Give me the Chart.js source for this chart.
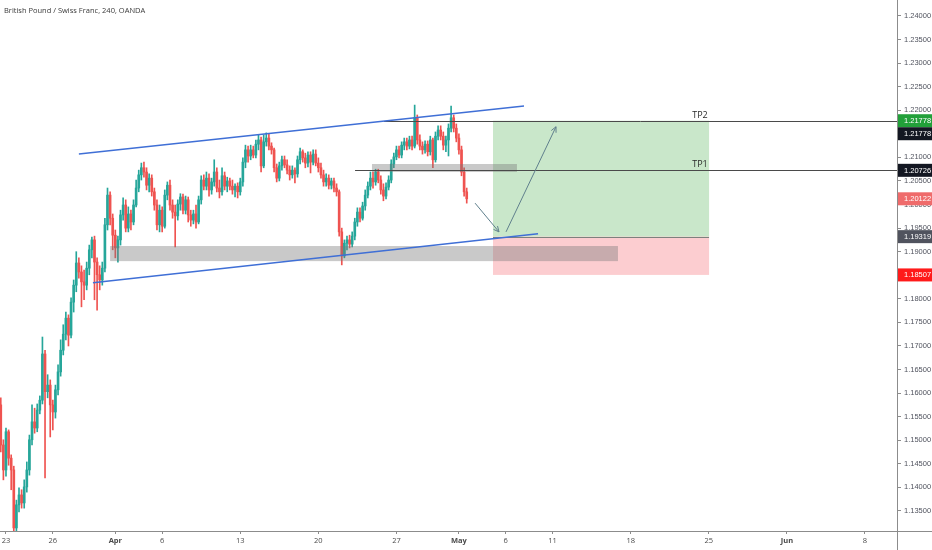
<!DOCTYPE html>
<html><head><meta charset="utf-8">
<script src="https://cdn.jsdelivr.net/npm/chart.js@4.4.1/dist/chart.umd.min.js"></script>
<style>html,body{margin:0;padding:0;background:#fff;}#wrap{width:932px;height:550px;}</style>
</head><body><div id="wrap"><canvas id="c" width="932" height="550"></canvas></div>
<script>
const chartTitle = 'British Pound / Swiss Franc, 240, OANDA';
const firstBar = -2; // bar index of the first candle (0 = first 4h bar of 23 Mar)

const opens = [
1.1575,1.1490,1.1437,1.1518,1.1462,1.1437,1.1314,1.1363,1.1384,1.1367,
1.1401,1.1437,1.1501,1.1539,1.1526,1.1564,1.1585,1.1683,1.1603,1.1617,
1.1575,1.1560,1.1607,1.1645,1.1691,1.1725,1.1759,1.1723,1.1793,1.1829,
1.1876,1.1857,1.1836,1.1829,1.1865,1.1904,1.1925,1.1878,1.1851,1.1840,
1.1865,1.1957,1.2020,1.1971,1.1935,1.1908,1.1925,1.1978,1.1999,1.1950,
1.1980,1.1963,1.1999,1.2035,1.2063,1.2078,1.2069,1.2041,1.2056,1.2027,
1.1999,1.1957,1.1988,1.1954,1.2020,1.2041,1.1999,1.1984,1.1976,1.2001,
1.2016,1.1988,1.2010,1.1978,1.1967,1.1980,1.1963,1.2010,1.2052,1.2039,
1.2056,1.2031,1.2048,1.2069,1.2035,1.2027,1.2061,1.2039,1.2050,1.2039,
1.2031,1.2039,1.2027,1.2048,1.2090,1.2116,1.2103,1.2116,1.2105,1.2128,
1.2137,1.2082,1.2133,1.2141,1.2124,1.2116,1.2078,1.2056,1.2082,1.2095,
1.2084,1.2073,1.2063,1.2073,1.2065,1.2095,1.2112,1.2099,1.2088,1.2105,
1.2090,1.2107,1.2088,1.2078,1.2063,1.2048,1.2056,1.2041,1.2050,1.2035,
1.2027,1.1942,1.1891,1.1918,1.1925,1.1916,1.1933,1.1963,1.1984,1.1971,
1.1997,1.2020,1.2039,1.2056,1.2048,1.2069,1.2052,1.2031,1.2018,1.2037,
1.2052,1.2086,1.2101,1.2116,1.2105,1.2126,1.2133,1.2124,1.2137,1.2124,
1.2184,1.2137,1.2124,1.2116,1.2128,1.2112,1.2137,1.2095,1.2145,1.2158,
1.2145,1.2126,1.2137,1.2162,1.2184,1.2162,1.2141,1.2116,1.2069,1.2027];

const highs = [
1.1590,1.1501,1.1526,1.1522,1.1469,1.1445,1.1373,1.1399,1.1395,1.1416,
1.1454,1.1511,1.1575,1.1568,1.1577,1.1594,1.1719,1.1691,1.1639,1.1628,
1.1585,1.1617,1.1660,1.1713,1.1745,1.1772,1.1766,1.1802,1.1840,1.1900,
1.1887,1.1870,1.1861,1.1878,1.1914,1.1931,1.1933,1.1887,1.1870,1.1878,
1.1971,1.2035,1.2027,1.1980,1.1946,1.1933,1.1988,1.2014,1.2010,1.1995,
1.1988,1.2010,1.2052,1.2073,1.2088,1.2090,1.2078,1.2065,1.2063,1.2035,
1.2010,1.1999,1.1995,1.2031,1.2048,1.2052,1.2010,1.1999,1.2010,1.2023,
1.2022,1.2018,1.2016,1.1988,1.1988,1.1999,1.2018,1.2061,1.2063,1.2069,
1.2065,1.2056,1.2095,1.2078,1.2052,1.2078,1.2069,1.2058,1.2056,1.2052,
1.2044,1.2046,1.2056,1.2099,1.2126,1.2124,1.2126,1.2124,1.2137,1.2148,
1.2143,1.2148,1.2152,1.2150,1.2131,1.2120,1.2086,1.2090,1.2103,1.2103,
1.2095,1.2082,1.2082,1.2078,1.2103,1.2120,1.2116,1.2109,1.2112,1.2112,
1.2116,1.2116,1.2099,1.2088,1.2073,1.2065,1.2063,1.2056,1.2056,1.2044,
1.2031,1.1950,1.1925,1.1933,1.1935,1.1942,1.1971,1.1993,1.1993,1.2005,
1.2031,1.2048,1.2069,1.2069,1.2075,1.2075,1.2061,1.2044,1.2046,1.2061,
1.2095,1.2109,1.2124,1.2124,1.2133,1.2141,1.2141,1.2145,1.2145,1.2211,
1.2190,1.2148,1.2133,1.2135,1.2135,1.2145,1.2141,1.2154,1.2167,1.2167,
1.2154,1.2145,1.2171,1.2209,1.2190,1.2171,1.2150,1.2124,1.2078,1.2035];

const lows = [
1.1475,1.1416,1.1424,1.1447,1.1395,1.1278,1.1300,1.1348,1.1356,1.1356,
1.1390,1.1426,1.1490,1.1515,1.1518,1.1556,1.1577,1.1420,1.1590,1.1507,
1.1522,1.1547,1.1596,1.1636,1.1681,1.1713,1.1700,1.1717,1.1772,1.1815,
1.1844,1.1783,1.1798,1.1819,1.1851,1.1887,1.1798,1.1776,1.1819,1.1829,
1.1857,1.1946,1.1957,1.1904,1.1887,1.1878,1.1914,1.1967,1.1942,1.1942,
1.1946,1.1957,1.1995,1.2027,1.2052,1.2058,1.2031,1.2027,1.2018,1.1988,
1.1946,1.1942,1.1942,1.1950,1.2010,1.1988,1.1971,1.1910,1.1967,1.1988,
1.1980,1.1980,1.1963,1.1954,1.1959,1.1950,1.1959,1.2001,1.2031,1.2031,
1.2018,1.2022,1.2039,1.2027,1.2014,1.2020,1.2031,1.2027,1.2031,1.2022,
1.2016,1.2014,1.2020,1.2039,1.2078,1.2090,1.2095,1.2099,1.2099,1.2116,
1.2069,1.2078,1.2124,1.2116,1.2107,1.2069,1.2048,1.2050,1.2073,1.2078,
1.2065,1.2052,1.2056,1.2046,1.2058,1.2086,1.2090,1.2078,1.2080,1.2067,
1.2084,1.2082,1.2069,1.2056,1.2039,1.2039,1.2033,1.2033,1.2027,1.2018,
1.1933,1.1872,1.1887,1.1904,1.1908,1.1910,1.1925,1.1954,1.1963,1.1967,
1.1988,1.2014,1.2031,1.2035,1.2041,1.2046,1.2022,1.2008,1.2012,1.2031,
1.2046,1.2078,1.2095,1.2099,1.2099,1.2116,1.2116,1.2118,1.2116,1.2120,
1.2128,1.2116,1.2107,1.2109,1.2103,1.2105,1.2078,1.2090,1.2137,1.2137,
1.2116,1.2112,1.2103,1.2154,1.2154,1.2133,1.2107,1.2061,1.2018,1.2003];

const closes = [
1.1490,1.1437,1.1518,1.1462,1.1437,1.1314,1.1363,1.1384,1.1367,1.1401,
1.1437,1.1501,1.1539,1.1526,1.1564,1.1585,1.1683,1.1603,1.1617,1.1575,
1.1560,1.1607,1.1645,1.1691,1.1725,1.1759,1.1723,1.1793,1.1829,1.1876,
1.1857,1.1836,1.1829,1.1865,1.1904,1.1925,1.1878,1.1851,1.1840,1.1865,
1.1957,1.2020,1.1971,1.1935,1.1908,1.1925,1.1978,1.1999,1.1950,1.1980,
1.1963,1.1999,1.2035,1.2063,1.2078,1.2069,1.2041,1.2056,1.2027,1.1999,
1.1957,1.1988,1.1954,1.2020,1.2041,1.1999,1.1984,1.1976,1.2001,1.2016,
1.1988,1.2010,1.1978,1.1967,1.1980,1.1963,1.2010,1.2052,1.2039,1.2056,
1.2031,1.2048,1.2069,1.2035,1.2027,1.2061,1.2039,1.2050,1.2039,1.2031,
1.2039,1.2027,1.2048,1.2090,1.2116,1.2103,1.2116,1.2105,1.2128,1.2137,
1.2082,1.2133,1.2141,1.2124,1.2116,1.2078,1.2056,1.2082,1.2095,1.2084,
1.2073,1.2063,1.2073,1.2065,1.2095,1.2112,1.2099,1.2088,1.2105,1.2090,
1.2107,1.2088,1.2078,1.2063,1.2048,1.2056,1.2041,1.2050,1.2035,1.2027,
1.1942,1.1891,1.1918,1.1925,1.1916,1.1933,1.1963,1.1984,1.1971,1.1997,
1.2020,1.2039,1.2056,1.2048,1.2069,1.2052,1.2031,1.2018,1.2037,1.2052,
1.2086,1.2101,1.2116,1.2105,1.2126,1.2133,1.2124,1.2137,1.2124,1.2184,
1.2137,1.2124,1.2116,1.2128,1.2112,1.2137,1.2095,1.2145,1.2158,1.2145,
1.2126,1.2137,1.2162,1.2184,1.2162,1.2141,1.2116,1.2069,1.2027,1.20122];

// x axis: bar index of each date label, and the label text
const xTickPos = [0, 18, 42, 60, 90, 120, 150, 174, 192, 210, 240, 270, 300, 330];
const xTickLabels = ['23','26','Apr','6','13','20','27','May','6','11','18','25','Jun','8'];
const monthLabels = ['Apr','May','Jun'];
const yTicks = [1.135,1.14,1.145,1.15,1.155,1.16,1.165,1.17,1.175,1.18,1.185,1.19,1.195,1.20,1.205,1.21,1.215,1.22,1.225,1.23,1.235,1.24];

// drawings (bar index, price)
const trendLines = [
  {x1: 28.0, y1: 1.2107, x2: 199.0, y2: 1.2209},
  {x1: 33.4, y1: 1.1834, x2: 204.4, y2: 1.1938}
];
const zones = [
  {x1: 40.0, x2: 235.1, top: 1.1912, bottom: 1.1880},
  {x1: 140.6, x2: 196.3, top: 1.2086, bottom: 1.2069}
];
const positionBox = {x1: 187.1, x2: 270.1, target: 1.21778, entry: 1.19319, stop: 1.18507};
const levelNames = ['TP1', 'TP2'];
const levelPrices = [1.20726, 1.21778];
const levelStarts = [134.1, 145.2];
const levelLabelAt = 266.6;
const arrows = [
  {x1: 180.2, y1: 1.2003, x2: 189.4, y2: 1.1942},
  {x1: 192.1, y1: 1.1942, x2: 211.3, y2: 1.2165}
];
const tagPrices = [1.21778, 1.21778, 1.20726, 1.20122, 1.19319, 1.18507];
const tagColors = ['#22a03a', '#131722', '#131722', '#ef6b6b', '#50535e', '#ff1a1a'];

const UP = '#26a69a', DOWN = '#ef5350';
const isUp = i => closes[i] >= opens[i];
const bodies = opens.map((o, i) => ({x: firstBar + i, y: [o, closes[i]]}));
const wicks = lows.map((l, i) => ({x: firstBar + i, y: [l, highs[i]]}));
const colorFn = c => isUp(c.dataIndex) ? UP : DOWN;

const drawings = {
  id: 'drawings',
  afterDatasetsDraw(chart) {
    const {ctx, chartArea: a, scales: {x, y}} = chart;
    ctx.save();
    ctx.beginPath(); ctx.rect(a.left, a.top, a.right - a.left, a.bottom - a.top); ctx.clip();
    const px1 = x.getPixelForValue(positionBox.x1), px2 = x.getPixelForValue(positionBox.x2);
    const pt = y.getPixelForValue(positionBox.target), pe = y.getPixelForValue(positionBox.entry), ps = y.getPixelForValue(positionBox.stop);
    ctx.fillStyle = 'rgba(76,175,80,0.30)'; ctx.fillRect(px1, pt, px2 - px1, pe - pt);
    ctx.fillStyle = 'rgba(242,54,69,0.25)'; ctx.fillRect(px1, pe, px2 - px1, ps - pe);
    ctx.strokeStyle = '#7d817d'; ctx.lineWidth = 1;
    ctx.beginPath(); ctx.moveTo(px1, Math.round(pe) + 0.5); ctx.lineTo(px2, Math.round(pe) + 0.5); ctx.stroke();
    ctx.fillStyle = 'rgba(120,120,120,0.40)';
    zones.forEach(z => {
      const zx1 = x.getPixelForValue(z.x1), zx2 = x.getPixelForValue(z.x2);
      const zt = y.getPixelForValue(z.top), zb = y.getPixelForValue(z.bottom);
      ctx.fillRect(zx1, zt, zx2 - zx1, zb - zt);
    });
    ctx.strokeStyle = '#4a4a4a'; ctx.lineWidth = 1;
    ctx.fillStyle = '#2a2a2a'; ctx.font = '9px "Open Sans"'; ctx.textAlign = 'center'; ctx.textBaseline = 'bottom';
    levelPrices.forEach((p, k) => {
      const ly = Math.round(y.getPixelForValue(p)) + 0.5;
      ctx.beginPath(); ctx.moveTo(x.getPixelForValue(levelStarts[k]), ly); ctx.lineTo(a.right, ly); ctx.stroke();
      ctx.fillText(levelNames[k], x.getPixelForValue(levelLabelAt), ly - 2);
    });
    ctx.strokeStyle = '#3f6fd6'; ctx.lineWidth = 1.5;
    trendLines.forEach(t => {
      ctx.beginPath();
      ctx.moveTo(x.getPixelForValue(t.x1), y.getPixelForValue(t.y1));
      ctx.lineTo(x.getPixelForValue(t.x2), y.getPixelForValue(t.y2));
      ctx.stroke();
    });
    ctx.strokeStyle = '#5f7f8c'; ctx.lineWidth = 1;
    arrows.forEach(r => {
      const ax1 = x.getPixelForValue(r.x1), ay1 = y.getPixelForValue(r.y1);
      const ax2 = x.getPixelForValue(r.x2), ay2 = y.getPixelForValue(r.y2);
      const ang = Math.atan2(ay2 - ay1, ax2 - ax1), h = 6;
      ctx.beginPath(); ctx.moveTo(ax1, ay1); ctx.lineTo(ax2, ay2);
      ctx.moveTo(ax2 - h * Math.cos(ang - 0.45), ay2 - h * Math.sin(ang - 0.45));
      ctx.lineTo(ax2, ay2);
      ctx.lineTo(ax2 - h * Math.cos(ang + 0.45), ay2 - h * Math.sin(ang + 0.45));
      ctx.stroke();
    });
    ctx.restore();
  },
  afterDraw(chart) {
    const {ctx, chartArea: a, scales: {y}, width, height} = chart;
    ctx.save();
    ctx.strokeStyle = '#8c8c8c'; ctx.lineWidth = 1;
    ctx.beginPath();
    ctx.moveTo(0, Math.round(a.bottom) + 0.5); ctx.lineTo(width, Math.round(a.bottom) + 0.5);
    ctx.moveTo(Math.round(a.right) + 0.5, 0); ctx.lineTo(Math.round(a.right) + 0.5, height);
    ctx.stroke();
    ctx.fillStyle = '#3a3a3a'; ctx.font = '7.5px "Open Sans"'; ctx.textAlign = 'left'; ctx.textBaseline = 'middle';
    ctx.fillText(chartTitle, 4, 11);
    const hgt = 13; let prevBottom = -Infinity;
    ctx.font = '7.5px "Liberation Sans"'; ctx.textBaseline = 'middle';
    tagPrices.forEach((p, k) => {
      let cy = y.getPixelForValue(p);
      if (cy - hgt / 2 < prevBottom) cy = prevBottom + hgt / 2;
      prevBottom = cy + hgt / 2;
      ctx.fillStyle = tagColors[k];
      ctx.fillRect(a.right + 1, cy - hgt / 2, width - a.right - 1, hgt);
      ctx.fillStyle = '#ffffff';
      ctx.fillText(p.toFixed(5), a.right + 7, cy + 0.5);
    });
    ctx.restore();
  }
};

new Chart(document.getElementById('c'), {
  type: 'bar',
  data: {
    datasets: [
      {data: wicks, backgroundColor: colorFn, barThickness: 1, grouped: false, minBarLength: 1, order: 2},
      {data: bodies, backgroundColor: colorFn, barThickness: 2, grouped: false, minBarLength: 1, order: 1}
    ]
  },
  options: {
    responsive: false, animation: false, events: [],
    layout: {padding: 0},
    plugins: {legend: {display: false}, tooltip: {enabled: false}, title: {display: false}},
    scales: {
      x: {
        type: 'linear', min: -2.3, max: 342.3, offset: false,
        afterFit: s => { s.height = 19; s.paddingLeft = 0; s.paddingRight = 0; },
        afterBuildTicks: s => { s.ticks = xTickPos.map(v => ({value: v})); },
        grid: {display: true, drawOnChartArea: false, drawTicks: true, tickLength: 3, color: '#8c8c8c', offset: false},
        border: {display: false},
        ticks: {
          autoSkip: false, maxRotation: 0, padding: 2, color: '#4a4a4a',
          callback: (v, i) => xTickLabels[i],
          font: c => ({family: '"Open Sans"', size: 7.5, weight: monthLabels.includes(xTickLabels[xTickPos.indexOf(c.tick && c.tick.value)]) ? 'bold' : 'normal'})
        }
      },
      y: {
        type: 'linear', position: 'right', min: 1.13075, max: 1.24339,
        afterFit: s => { s.width = 35; s.paddingTop = 0; s.paddingBottom = 0; },
        afterBuildTicks: s => { s.ticks = yTicks.map(v => ({value: v})); },
        grid: {display: true, drawOnChartArea: false, drawTicks: true, tickLength: 4, color: '#8c8c8c'},
        border: {display: false},
        ticks: {padding: 3, color: '#50535e', font: {family: '"Liberation Sans"', size: 7.5}, callback: v => v.toFixed(5)}
      }
    }
  },
  plugins: [drawings]
});
</script></body></html>
